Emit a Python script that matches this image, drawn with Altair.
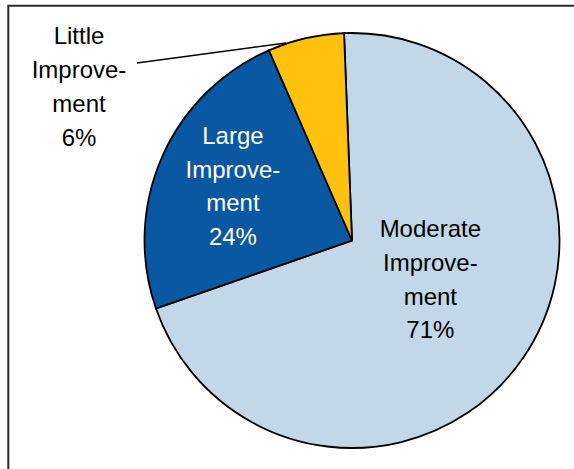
import altair as alt
import pandas as pd

# Survey outcome shares
categories = ["Moderate Improvement", "Large Improvement", "Little Improvement"]
label_lines = [["Moderate", "Improve-", "ment"],
               ["Large", "Improve-", "ment"],
               ["Little", "Improve-", "ment"]]
percents = [71, 24, 6]
colors = ["#C2D7E8", "#0A57A2", "#FEC20E"]

df = pd.DataFrame({
    "category": categories,
    "pct": percents,
    "label": ["\n".join(lines + [f"{p}%"]) for lines, p in zip(label_lines, percents)],
})

W, H = 574, 469
CX, CY, R = 352, 240.5, 207.5
START = -0.0384  # slight counter-clockwise rotation of the first slice
TWO_PI = 6.283185307179586
FONT = "Liberation Sans"
LH = 33.7

base = alt.Chart(df).transform_window(idx="row_number()")

theta = alt.Theta("pct:Q", stack=True,
                  scale=alt.Scale(range=[START, START + TWO_PI]))

pie = base.mark_arc(radius=R, stroke="black", strokeWidth=1.8).encode(
    theta=theta,
    order=alt.Order("idx:Q"),
    color=alt.Color("category:N",
                    scale=alt.Scale(domain=categories, range=colors),
                    legend=None),
    x=alt.value(CX),
    y=alt.value(CY),
)


def inner_label(cat, r, dx, dy, color):
    # every slice stays in the stack so the angles match the pie;
    # only the chosen slice gets visible text
    return base.transform_calculate(
        shown=f"datum.category == '{cat}' ? datum.label : ''"
    ).mark_text(
        radius=r, dx=dx, dy=dy, font=FONT, fontSize=24, align="center",
        baseline="middle", lineBreak="\n", lineHeight=LH, color=color,
    ).encode(
        theta=theta,
        order=alt.Order("idx:Q"),
        text="shown:N",
        x=alt.value(CX),
        y=alt.value(CY),
    )


moderate_lbl = inner_label("Moderate Improvement", 90, 4, -61, "black")
large_lbl = inner_label("Large Improvement", 130, 0, -51.5, "white")

little_lbl = alt.Chart(df).transform_filter(
    alt.datum.category == "Little Improvement"
).mark_text(
    font=FONT, fontSize=24, align="center", baseline="alphabetic",
    lineBreak="\n", lineHeight=34, color="black",
).encode(text="label:N", x=alt.value(79), y=alt.value(44.3))

leader = alt.Chart(df.head(1)).mark_rule(color="black", strokeWidth=1.5).encode(
    x=alt.value(137), y=alt.value(63), x2=alt.value(286), y2=alt.value(43)
)

frame = alt.Chart(df.head(1)).mark_rect(
    fill=None, stroke="#2b2b2b", strokeWidth=2
).encode(x=alt.value(8.3), y=alt.value(5.7), x2=alt.value(700), y2=alt.value(700))

chart = alt.layer(frame, pie, leader, moderate_lbl, large_lbl, little_lbl).properties(
    width=W, height=H, padding=0, autosize=alt.AutoSizeParams(type="none"),
    background="white",
).configure_view(stroke=None)

chart.save("out.html", embed_options={"renderer": "svg", "actions": False})
